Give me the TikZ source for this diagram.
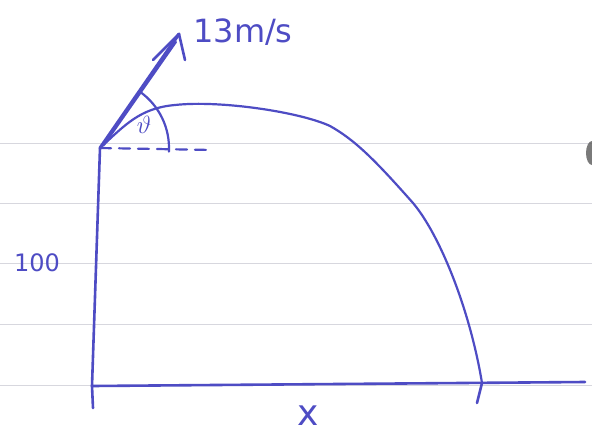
\documentclass[tikz,border=0pt]{standalone}
\usepackage{fontspec}
\setmainfont{DejaVu Sans}
\usetikzlibrary{arrows.meta}
\definecolor{ink}{RGB}{78,76,196}
\definecolor{rule}{RGB}{215,215,222}
\begin{document}
\begin{tikzpicture}[x=1pt,y=-1pt,
  pen/.style={draw=ink,line width=2.6pt,line cap=round,line join=round},
  ruled/.style={draw=rule,line width=1pt},
  lbl/.style={text=ink,inner sep=0pt,font=\fontsize{32}{32}\selectfont}]
\useasboundingbox (0,0) rectangle (592,437);
\fill[white] (0,0) rectangle (592,437);
% ruled paper lines
\foreach \yy in {143,203,263,324,385}
  \draw[ruled] (0,\yy) -- (592,\yy);
% blob at edge
\fill[gray!70!black,opacity=0.8] (592,153) ellipse (6 and 12);
% points
\coordinate (P) at (100,148);
\coordinate (B) at (92,386);
\coordinate (Bt) at (93,408);
\coordinate (G) at (585,382);
\coordinate (L) at (482,383);
\coordinate (Lt) at (477,403);
\coordinate (T) at (179,34);
\coordinate (D) at (213,150);
% wall and ground
\draw[pen] (P) -- (B) -- (Bt);
\draw[pen] (B) -- (G);
\draw[pen] (L) -- (Lt);
% trajectory
\draw[pen,line width=2.2pt] (P) .. controls (125,125) and (140,108) .. (175,105)
  .. controls (220,100) and (300,112) .. (330,126)
  .. controls (355,140) and (375,160) .. (413,203)
  .. controls (440,235) and (470,310) .. (L);
% velocity arrow
\draw[pen,line width=3.2pt] (P) -- (T);
\draw[pen,line width=2pt] (104,145) -- (176,42);
\draw[pen] (153,60) -- (T) -- (185,60);
% dashed horizontal
\draw[pen,dash pattern=on 11pt off 8pt,line width=2.2pt] (P) -- (D);
% angle arc
\draw[pen,line width=2.2pt] ([shift={(-54.5:69)}]P) arc[start angle=-54.5,end angle=3,radius=69];
% labels
\node[lbl] (v) at (243,32) {13m/s};
\node[lbl,font=\fontsize{26}{26}\selectfont] (th) at (144,125) {$\vartheta$};
\node[lbl,font=\fontsize{24}{24}\selectfont] (h) at (37,263) {100};
\node[lbl,font=\fontsize{36}{36}\selectfont] (x) at (308,416) {x};
\end{tikzpicture}
\end{document}
